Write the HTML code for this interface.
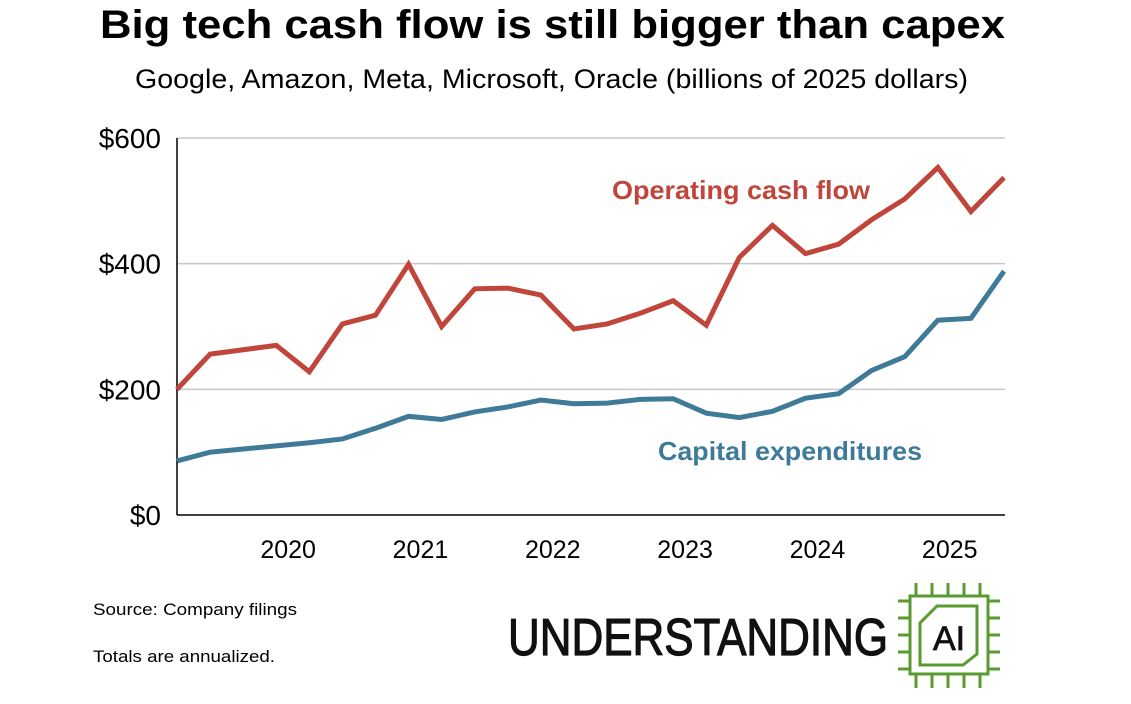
<!DOCTYPE html>
<html><head><meta charset="utf-8">
<style>
html,body{margin:0;padding:0;background:#fff;width:1131px;height:704px;overflow:hidden}
svg{display:block;font-family:"Liberation Sans",Arial,sans-serif}
</style></head>
<body>
<svg id="chart" width="1131" height="704" viewBox="0 0 1131 704">
<text x="100" y="38" font-size="40" font-weight="bold" fill="#000" textLength="905" lengthAdjust="spacingAndGlyphs">Big tech cash flow is still bigger than capex</text>
<text x="135" y="88" font-size="27" fill="#000" textLength="833" lengthAdjust="spacingAndGlyphs">Google, Amazon, Meta, Microsoft, Oracle (billions of 2025 dollars)</text>
<g id="grid"></g>
<g id="yticks"></g>
<g id="xticks"></g>
<g id="series"></g>
<text x="612" y="199" font-size="26" font-weight="bold" fill="#c0453a" textLength="258" lengthAdjust="spacingAndGlyphs">Operating cash flow</text>
<text x="658" y="460" font-size="26" font-weight="bold" fill="#3f7b98" textLength="264" lengthAdjust="spacingAndGlyphs">Capital expenditures</text>
<text x="93" y="615" font-size="17" fill="#000" textLength="204" lengthAdjust="spacingAndGlyphs">Source: Company filings</text>
<text x="93" y="662" font-size="17" fill="#000" textLength="182" lengthAdjust="spacingAndGlyphs">Totals are annualized.</text>
<g>
<text x="508" y="655" font-size="52" fill="#111" stroke="#111" stroke-width="1.2" textLength="380" lengthAdjust="spacingAndGlyphs">UNDERSTANDING</text>
<g stroke="#5a9a32" stroke-width="3" fill="none">
<rect x="910" y="596" width="78" height="78"/>
<polygon points="937,606 977,606 977,654 963,665 920,665 920,623"/>
<path d="M916,583v13M932,583v13M948,583v13M964,583v13M980,583v13M916,674v14M932,674v14M948,674v14M964,674v14M980,674v14M898,601h12M898,618h12M898,635h12M898,652h12M898,669h12M988,601h12M988,618h12M988,635h12M988,652h12M988,669h12"/>
</g>
<text x="949" y="650" text-anchor="middle" font-size="34" fill="#111" stroke="#111" stroke-width="0.8">AI</text>
</g>
</svg>
<script>
const yTicks=[0,200,400,600];
const yTickLabels=["$0","$200","$400","$600"];
const xYears=["2020","2021","2022","2023","2024","2025"];
const xYearPos=[3.36,7.36,11.36,15.36,19.36,23.36];
const operatingCashFlow=[200,256,263,270,228,304,318,399,300,360,361,350,296,304,321,341,302,410,461,416,431,470,503,553,483,537];
const capitalExpenditures=[86,100,105,110,115,121,138,157,152,164,172,183,177,178,184,185,162,155,165,186,193,230,252,310,313,388];
const X0=177,X1=1005,Y0=515,Y1=138;
const n=operatingCashFlow.length;
const xs=i=>X0+i*(X1-1-X0)/(n-1);
const ys=v=>Y0-(v/600)*(Y0-Y1);
const NS="http://www.w3.org/2000/svg";
function mk(t,a,p){const e=document.createElementNS(NS,t);for(const k in a)e.setAttribute(k,a[k]);p.appendChild(e);return e;}
const grid=document.getElementById('grid'),yt=document.getElementById('yticks'),xt=document.getElementById('xticks'),se=document.getElementById('series');
yTicks.forEach((v,i)=>{
 if(v>0){const l=mk('line',{x1:X0,x2:X1,y1:ys(v),y2:ys(v),stroke:'#c8c8c8','stroke-width':1.5},grid);
 
 }
 const t=mk('text',{x:161,y:ys(v)+10,'text-anchor':'end','font-size':28,fill:'#000'},yt);
 t.textContent=yTickLabels[i];
 
 
});
const ax=mk('line',{x1:X0,x2:X1,y1:Y0,y2:Y0,stroke:'#000','stroke-width':1.5},grid);


const ay=mk('line',{x1:X0,x2:X0,y1:Y1,y2:Y0,stroke:'#000','stroke-width':1.5},grid);


xYears.forEach((y,i)=>{
 const t=mk('text',{x:xs(xYearPos[i]),y:558,'text-anchor':'middle','font-size':25,fill:'#000'},xt);
 t.textContent=y;
 
 
});
function line(arr,col,name){
 const p=mk('polyline',{points:arr.map((v,i)=>xs(i)+','+ys(v)).join(' '),fill:'none',stroke:col,'stroke-width':5,'stroke-linejoin':'miter'},se);
 
 
}
line(capitalExpenditures,'#3f7b98','capex-line');
line(operatingCashFlow,'#c0453a','operating-cash-flow-line');
</script>
</body></html>
